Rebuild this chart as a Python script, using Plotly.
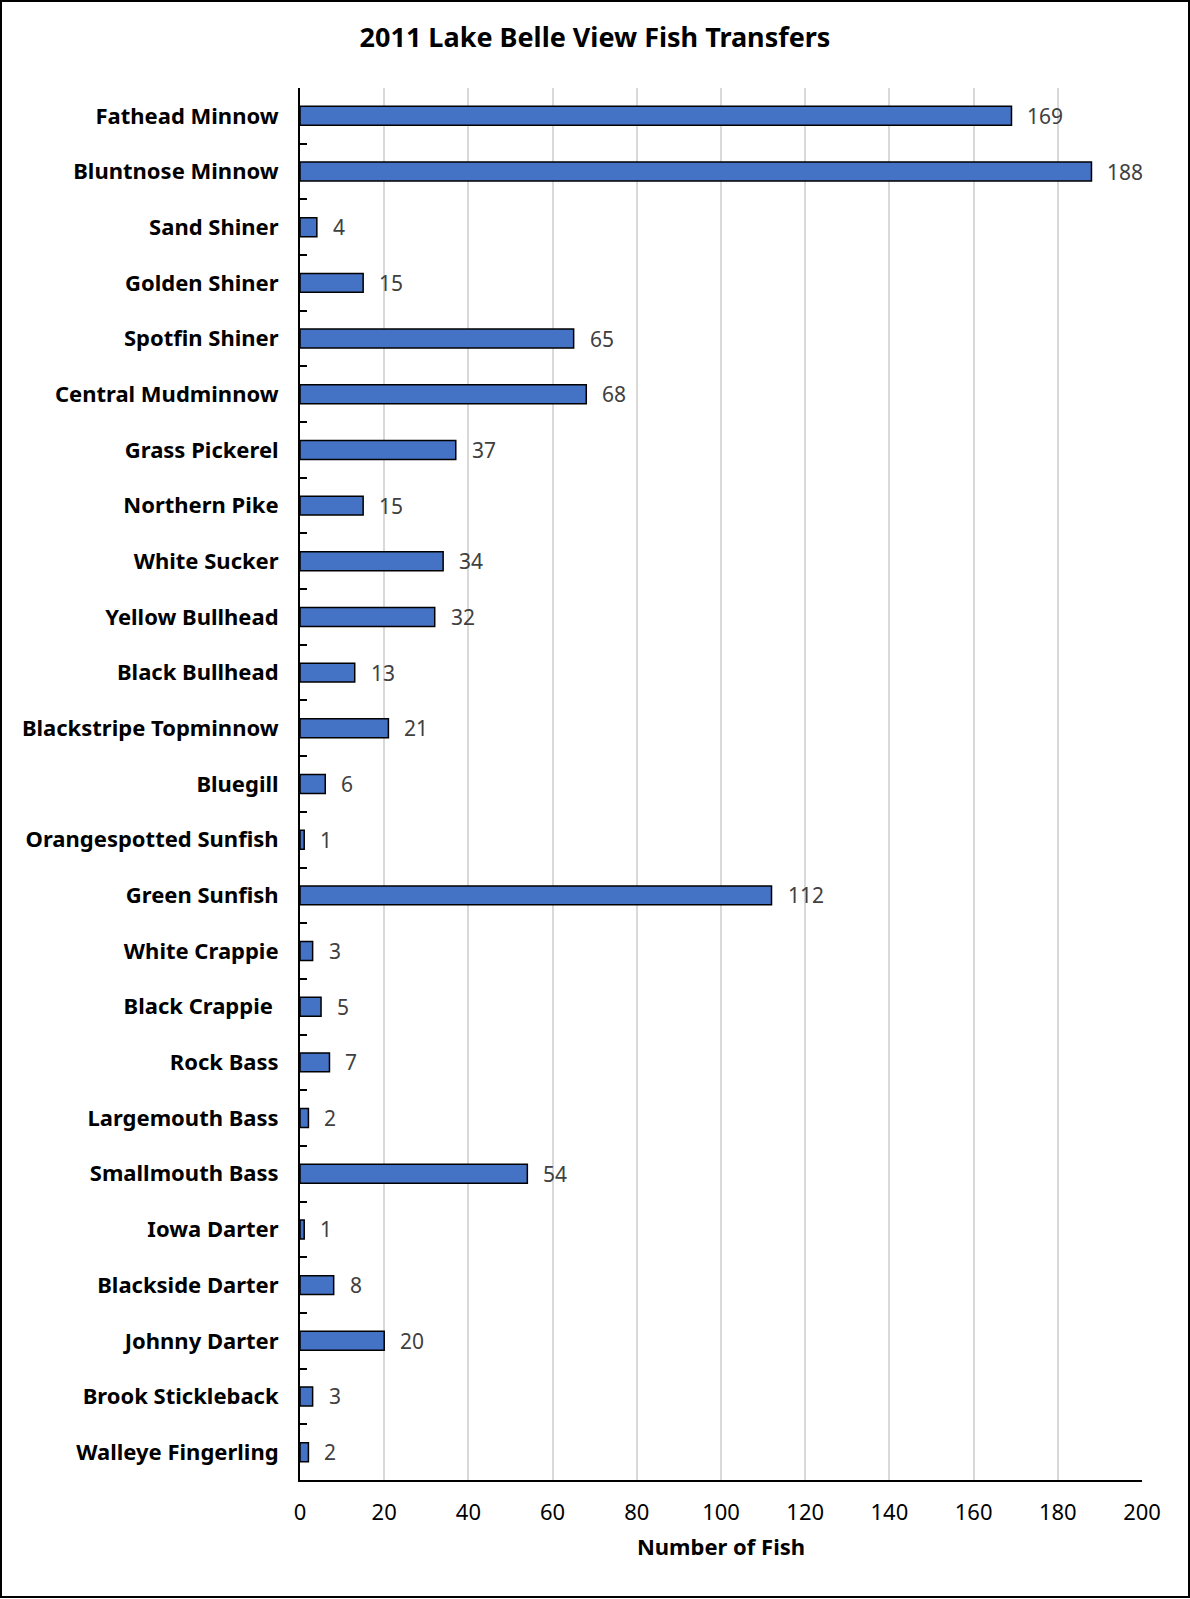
import plotly.graph_objects as go

categories = ["Fathead Minnow", "Bluntnose Minnow", "Sand Shiner", "Golden Shiner",
              "Spotfin Shiner", "Central Mudminnow", "Grass Pickerel", "Northern Pike",
              "White Sucker", "Yellow Bullhead", "Black Bullhead", "Blackstripe Topminnow",
              "Bluegill", "Orangespotted Sunfish", "Green Sunfish", "White Crappie",
              "Black Crappie\u00a0", "Rock Bass", "Largemouth Bass", "Smallmouth Bass",
              "Iowa Darter", "Blackside Darter", "Johnny Darter", "Brook Stickleback",
              "Walleye Fingerling"]
values = [169, 188, 4, 15, 65, 68, 37, 15, 34, 32, 13, 21, 6, 1, 112, 3, 5, 7, 2, 54,
          1, 8, 20, 3, 2]
x_ticks = [0, 20, 40, 60, 80, 100, 120, 140, 160, 180, 200]

FONT = "Noto Sans"
W, H = 1190, 1599
L, R, T, B = 300, 48, 88, 119
pw, ph = W - L - R, H - T - B

fig = go.Figure(go.Bar(
    x=values, y=categories, orientation="h",
    marker=dict(color="#4472C4", line=dict(color="black", width=1.5)),
    hoverinfo="x+y",
))

for c, v in zip(categories, values):
    fig.add_annotation(x=v, y=c, text=str(v), showarrow=False, xanchor="left",
                       xshift=14, font=dict(family=FONT, size=21, color="#404040"))

# outer frame
fig.add_shape(type="rect", xref="paper", yref="paper",
              x0=(1 - L) / pw, x1=(W - 1 - L) / pw,
              y0=(H - B - (H - 2)) / ph, y1=(H - B - 1) / ph,
              line=dict(color="black", width=2), layer="above")

fig.update_layout(
    width=W, height=H,
    margin=dict(l=L, r=R, t=T, b=B, autoexpand=False),
    paper_bgcolor="white", plot_bgcolor="white",
    bargap=0.66,
    showlegend=False,
    title=dict(text="<b>2011 Lake Belle View Fish Transfers</b>", x=0.5, xanchor="center",
               y=1 - 38 / H, yanchor="middle", font=dict(family=FONT, size=27, color="black")),
    xaxis=dict(range=[0, 200], tickvals=x_ticks, showgrid=True, gridcolor="#d9d9d9",
               gridwidth=1.5, showline=True, linecolor="black", linewidth=2,
               zeroline=False, ticks="", ticklabelstandoff=12,
               tickfont=dict(family=FONT, size=22, color="black"),
               title=dict(text="<b>Number of Fish</b>", standoff=14,
                          font=dict(family=FONT, size=22, color="black"))),
    yaxis=dict(autorange="reversed", showline=True, linecolor="black", linewidth=2,
               ticks="inside", tickson="boundaries", ticklen=7, tickwidth=1.5,
               tickcolor="black", showgrid=False, ticklabelstandoff=15,
               tickfont=dict(family=FONT, size=22, color="black"),
               tickprefix="<b>", ticksuffix="</b>"),
)

fig.write_html("out.html", config={"displayModeBar": False},
               post_script="document.body.style.margin='0';")
